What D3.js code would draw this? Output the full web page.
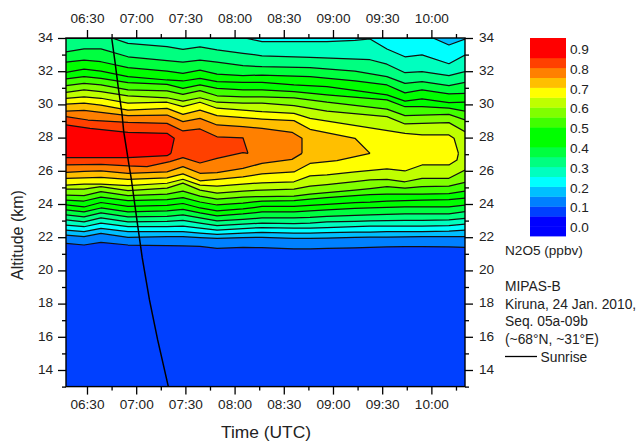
<!DOCTYPE html>
<html><head><meta charset="utf-8">
<script src="https://cdnjs.cloudflare.com/ajax/libs/d3/7.8.5/d3.min.js"></script>
<style>html,body{margin:0;padding:0;background:#fff}svg{display:block}
text{font-family:"Liberation Sans",Arial,sans-serif;fill:#222}</style></head><body>
<svg id="c" width="641" height="441"></svg>
<script>
// Time axis in minutes after midnight (UTC)
const timeStart = 377.2, timeEnd = 620.5;
const altBottom = 13, altTop = 34;
const majorTimes = [390,420,450,480,510,540,570,600];
const minorTimes = [405,435,465,495,525,555,585,615];
const majorAlts = [14,16,18,20,22,24,26,28,30,32,34];
const minorAlts = [13,15,17,19,21,23,25,27,29,31,33];

// Colour key: lower edge of each N2O5 band (ppbv) and its colour
const bandEdges = [-0.05,0,0.05,0.1,0.15,0.2,0.25,0.3,0.35,0.4,0.45,0.5,0.55,0.6,0.65,0.7,0.75,0.8,0.85,0.9];
const bandColors = ["#0000ff","#0000ff","#0040ff","#0080ff","#00bfff","#00ffff","#00ffbf","#00ff80","#00ff40","#00ff00","#00ff00","#40ff00","#80ff00","#bfff00","#ffff00","#ffbf00","#ff8000","#ff4000","#ff0000","#ff0000"];
const keyLabels = [0,0.1,0.2,0.3,0.4,0.5,0.6,0.7,0.8,0.9];

// Common time columns of the contour read-off
const T = [377.2,388.2,398.5,415,438.8,448.5,458.9,469.3,485.1,496.7,516.2,526,536.3,553.4,562.6,572.9,583.9,594.3,610.7,620.5];

// Lower branches: altitude (km) of each contour level
const lower10 = [21.63,21.53,21.69,21.53,21.49,21.47,21.44,21.33,21.38,21.37,21.30,21.29,21.32,21.36,21.38,21.41,21.43,21.43,21.41,21.39];
const lower15 = [22.13,22.03,22.23,21.99,22.03,22.03,21.98,21.93,21.98,21.99,21.93,21.93,21.95,21.99,22.00,22.01,22.02,22.03,22.03,22.03];
const lower20 = [22.43,22.33,22.53,22.33,22.33,22.33,22.25,22.17,22.25,22.29,22.25,22.25,22.28,22.31,22.31,22.33,22.34,22.34,22.37,22.43];
const lower25 = [22.73,22.63,22.85,22.63,22.64,22.67,22.55,22.43,22.52,22.58,22.55,22.55,22.58,22.64,22.66,22.67,22.67,22.67,22.70,22.79];
const lower30 = [23.04,22.92,23.16,22.92,22.95,23.01,22.85,22.70,22.79,22.85,22.82,22.85,22.92,22.96,22.98,23.00,23.01,23.01,23.04,23.14];
const lower35 = [23.34,23.22,23.46,23.22,23.25,23.34,23.16,22.98,23.07,23.16,23.16,23.19,23.25,23.31,23.34,23.37,23.40,23.40,23.40,23.54];
const lower40 = [23.64,23.52,23.76,23.52,23.58,23.67,23.46,23.28,23.40,23.52,23.52,23.58,23.64,23.73,23.76,23.79,23.82,23.82,23.82,23.94];
const lower45 = [23.94,23.82,24.09,23.85,23.91,24.03,23.76,23.58,23.70,23.85,23.85,23.91,23.97,24.09,24.12,24.18,24.21,24.24,24.27,24.36];
const lower50 = [24.24,24.18,24.42,24.21,24.27,24.39,24.12,23.94,24.06,24.18,24.21,24.30,24.39,24.51,24.57,24.60,24.60,24.60,24.63,24.78];
const lower55 = [24.54,24.51,24.75,24.51,24.60,24.78,24.48,24.30,24.42,24.45,24.48,24.60,24.69,24.84,24.93,25.04,24.96,25.05,25.08,25.30];
const lower60 = [24.90,24.90,25.05,24.81,24.96,25.26,24.84,24.66,24.78,24.84,24.89,25.08,25.17,25.35,25.45,25.49,25.34,25.55,25.55,26.05];

// Upper branches (null = no vertex read at that column)
const upper35 = [33.17,33.34,33.34,32.87,32.63,32.54,32.67,32.54,32.33,32.27,null,32.21,null,32.00,null,31.67,31.27,31.37,31.13,31.33];
const upper40 = [32.54,32.67,32.57,32.21,32.01,31.87,32.07,31.83,31.73,31.77,null,31.67,null,31.41,null,31.17,30.69,30.87,30.63,30.67];
const upper45 = [31.93,32.13,32.01,31.67,31.47,31.41,31.57,31.37,31.33,31.33,31.17,null,31.07,null,null,30.57,30.20,30.33,30.10,30.13];
const upper50 = [31.53,31.67,31.57,31.31,31.21,30.97,31.17,30.97,30.87,30.87,30.77,null,30.57,null,null,30.27,29.86,29.86,29.77,29.60];
const upper55 = [31.13,31.27,31.17,30.87,30.81,30.61,30.83,30.52,30.46,30.46,30.40,null,30.13,null,null,29.72,29.32,29.36,29.40,29.06];
const upper60 = [30.73,30.87,30.77,30.52,30.40,30.20,30.40,30.13,30.07,30.07,29.92,null,29.60,null,null,29.26,28.82,28.86,28.90,28.36];

// Contours that touch the top of the plot
const upper20Times = [377.2,601,610.7,620.5];
const upper20 = [34,34,33.58,33.94];
const upper25Times = [377.2,486.3,496.7,536.3,553.4,562.6,572.9,583.9,594.3,610.7,620.5];
const upper25 = [34,34,33.78,33.78,33.85,33.94,33.34,32.87,32.98,32.45,32.98];
const upper30Times = [377.2,405.2,415,438.8,448.5,458.9,469.3,485.1,496.7,526,562.6,572.9,583.9,594.3,610.7,620.5];
const upper30 = [34,34,33.68,33.48,33.32,33.46,33.28,33.08,32.93,32.84,32.69,32.42,31.91,31.97,31.73,31.97];

// Closed contours of the nocturnal maximum
const upper65Times = [377.2,388.2,398.5,415,438.8,448.5,458.9,469.3,485.1,496.7,516.2,526,583.9,594.3,610.7,613.8,616.5];
const upper65 = [30.37,30.46,30.37,30.07,30.13,29.86,30.13,29.77,29.66,29.56,29.46,29.16,28.26,28.16,28.16,27.96,27.05];
const lower65Times = [377.2,388.2,398.5,415,438.8,448.5,458.9,469.3,485.1,496.7,516.2,526,536.3,553.4,572.9,583.9,594.3,610.7,615.6,616.5];
const lower65 = [25.14,25.19,25.20,25.10,25.25,25.49,25.14,25.08,25.20,25.28,25.34,25.69,25.75,25.93,26.11,25.99,26.35,26.35,26.65,27.05];
const upper70Times = [377.2,388.2,398.5,415,438.8,448.5,458.9,469.3,485.1,496.7,516.2,526,553.4,562.6];
const upper70 = [30.01,30.07,29.96,29.66,29.76,29.40,29.66,29.32,29.20,29.12,29.02,28.50,27.96,27.05];
const lower70Times = [377.2,388.2,398.5,415,438.8,448.5,458.9,469.3,485.1,496.7,516.2,526,542.4,562.6];
const lower70 = [25.55,25.57,25.61,25.49,25.57,25.81,25.40,25.49,25.63,25.81,25.93,26.44,26.61,27.05];
const upper75Times = [377.2,388.2,398.5,415,438.8,448.5,458.9,469.3,485.1,496.7,515,521.1,521.1];
const upper75 = [29.60,29.64,29.52,29.32,29.36,28.96,29.16,28.76,28.66,28.56,28.32,27.96,27.05];
const lower75Times = [377.2,388.2,398.5,415,438.8,448.5,458.9,469.3,485.1,496.7,515,521.1];
const lower75 = [25.91,25.96,25.99,25.85,25.93,26.25,25.85,25.89,26.14,26.45,26.69,27.05];
const upper80Times = [377.2,390.6,415,438.8,448.5,458.9,469.3,485.1,488.2];
const upper80 = [29.26,29.06,28.92,28.86,28.40,28.52,28.05,27.99,27.05];
const lower80Times = [377.2,398.5,415,426.6,440.6,448.5,458.9,469.3,485.1,488.2];
const lower80 = [26.35,26.39,26.29,26.25,26.55,26.79,26.47,26.75,27.09,27.05];
const upper85Times = [377.2,391.8,415,438.8,443.2,441.2];
const upper85 = [28.76,28.56,28.32,28.26,27.96,27.05];
const lower85Times = [377.2,415,438.8,441.2];
const lower85 = [26.79,26.79,26.91,27.05];

// Sunrise terminator
const sunriseTimes = [405.06,407.1,409.1,411.3,412.4,414.2,415.6,417.1,420.7,423.7,428.1,433.1,439.6];
const sunriseAlts = [34,32.55,30.99,29.48,28.36,27.25,26.35,25.45,22.85,20.75,18.22,15.81,13];

const titleTime = "Time (UTC)", titleAlt = "Altitude (km)", keyTitle = "N2O5 (ppbv)";
const notes = ["MIPAS-B","Kiruna, 24 Jan. 2010,","Seq. 05a-09b","(~68\u00b0N, ~31\u00b0E)"];
const sunriseLabel = "Sunrise";

const zip = (ts, as) => ts.map((t,i)=>[t,as[i]]).filter(p=>p[1]!==null);
const topEdge = [[timeStart,altTop],[timeEnd,altTop]];
const levels = [
 {v:.10,lo:zip(T,lower10),up:null},
 {v:.15,lo:zip(T,lower15),up:null},
 {v:.20,lo:zip(T,lower20),up:zip(upper20Times,upper20)},
 {v:.25,lo:zip(T,lower25),up:zip(upper25Times,upper25)},
 {v:.30,lo:zip(T,lower30),up:zip(upper30Times,upper30)},
 {v:.35,lo:zip(T,lower35),up:zip(T,upper35)},
 {v:.40,lo:zip(T,lower40),up:zip(T,upper40)},
 {v:.45,lo:zip(T,lower45),up:zip(T,upper45)},
 {v:.50,lo:zip(T,lower50),up:zip(T,upper50)},
 {v:.55,lo:zip(T,lower55),up:zip(T,upper55)},
 {v:.60,lo:zip(T,lower60),up:zip(T,upper60)},
 {v:.65,lo:zip(lower65Times,lower65),up:zip(upper65Times,upper65)},
 {v:.70,lo:zip(lower70Times,lower70),up:zip(upper70Times,upper70)},
 {v:.75,lo:zip(lower75Times,lower75),up:zip(upper75Times,upper75)},
 {v:.80,lo:zip(lower80Times,lower80),up:zip(upper80Times,upper80)},
 {v:.85,lo:zip(lower85Times,lower85),up:zip(upper85Times,upper85)}
];
const colorOf = v => bandColors[bandEdges.findIndex(e=>Math.abs(e-v)<1e-6)];

const svg = d3.select("#c");
const L=66,R=465,Tp=38,B=386.6;
const x = d3.scaleLinear().domain([timeStart,timeEnd]).range([L,R]);
const y = d3.scaleLinear().domain([altBottom,altTop]).range([B,Tp]);
const line = d3.line().x(d=>x(d[0])).y(d=>y(d[1]));

svg.append("defs").append("clipPath").attr("id","plot").append("rect")
  .attr("x",L).attr("y",Tp).attr("width",R-L).attr("height",B-Tp);
const plot = svg.append("g").attr("clip-path","url(#plot)");
plot.append("rect").attr("x",L).attr("y",Tp).attr("width",R-L).attr("height",B-Tp).attr("fill",colorOf(0.05));
plot.selectAll("path.fill").data(levels).join("path").attr("class","fill")
  .attr("fill",d=>colorOf(d.v)).attr("stroke","none")
  .attr("d",d=>line(d.lo.concat((d.up||topEdge).slice().reverse()))+"Z");
levels.forEach(l=>{
  [l.lo,l.up].filter(Boolean).forEach(p=>{
    plot.append("path").attr("d",line(p)).attr("fill","none").attr("stroke","#111").attr("stroke-width",1.25).attr("stroke-linejoin","round");
  });
});
plot.append("path").attr("d",line(zip(sunriseTimes,sunriseAlts))).attr("fill","none").attr("stroke","#000").attr("stroke-width",1.5);

svg.append("rect").attr("x",L).attr("y",Tp).attr("width",R-L).attr("height",B-Tp).attr("fill","none").attr("stroke","#000").attr("stroke-width",1.4);

const fmt = m => String(Math.floor(m/60)).padStart(2,"0")+":"+String(m%60).padStart(2,"0");
function axis(maker,scale,major,minor,tx,ty,fm,pad,shift){
  const a=svg.append("g").attr("transform",`translate(${tx},${ty})`);
  a.call(maker(scale).tickValues(major).tickSize(8).tickPadding(pad).tickFormat(fm));
  const b=svg.append("g").attr("transform",`translate(${tx},${ty})`);
  b.call(maker(scale).tickValues(minor).tickSize(4).tickFormat(""));
  [a,b].forEach(g=>{g.select(".domain").remove();
    g.selectAll("line").attr("stroke","#000").attr("stroke-width",1.3);
    g.selectAll("text").attr("font-size",13.6).attr("font-family",'"Liberation Sans",Arial,sans-serif').attr("fill","#222").attr("transform",`translate(0,${shift})`);});
}
axis(d3.axisBottom,x,majorTimes,minorTimes,0,B,fmt,5,0);
axis(d3.axisTop,x,majorTimes,minorTimes,0,Tp,fmt,7,0);
axis(d3.axisLeft,y,majorAlts,minorAlts,L,0,d=>d,5,-1);
axis(d3.axisRight,y,majorAlts,minorAlts,R,0,d=>d,6,-1);

svg.append("text").attr("x",266).attr("y",438).attr("text-anchor","middle").attr("font-size",17.4).text(titleTime);
svg.append("text").attr("transform","translate(23,235) rotate(-90)").attr("text-anchor","middle").attr("font-size",16).text(titleAlt);

// Colour key
const k = d3.scaleLinear().domain([-0.05,0.95]).range([236,38]);
svg.selectAll("rect.key").data(bandEdges).join("rect").attr("class","key")
  .attr("x",530).attr("width",36)
  .attr("y",d=>k(d+0.05)).attr("height",d=>k(d)-k(d+0.05)+0.4)
  .attr("fill",(d,i)=>bandColors[i]);
svg.selectAll("text.key").data(keyLabels).join("text").attr("class","key")
  .attr("x",570).attr("y",d=>k(d)+6).attr("font-size",13.6).text(d=>d.toFixed(1));
const tx=505;
svg.append("text").attr("x",tx).attr("y",255).attr("font-size",13.6).text(keyTitle);
notes.forEach((n,i)=>svg.append("text").attr("x",tx).attr("y",291+i*17.5).attr("font-size",13.8).text(n));
svg.append("line").attr("x1",tx).attr("x2",537).attr("y1",356.5).attr("y2",356.5).attr("stroke","#000").attr("stroke-width",1.3);
svg.append("text").attr("x",540.5).attr("y",361.5).attr("font-size",13.8).text(sunriseLabel);
</script></body></html>
